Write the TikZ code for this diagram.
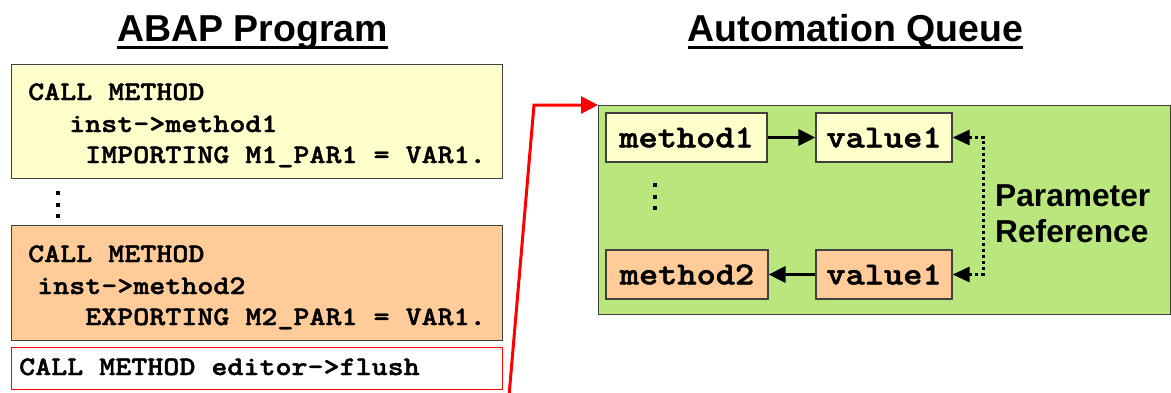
\documentclass[tikz,border=0pt]{standalone}
\usepackage{fontspec}
\setmainfont{Liberation Sans}
% heavy typewriter face widened to Courier-like advance widths
\newfontfamily\codefont{lmmonolt10-bold.otf}[FakeStretch=1.143,FakeBold=1.6]
\usetikzlibrary{arrows.meta}
\definecolor{paleyellow}{RGB}{255,255,204}
\definecolor{peach}{RGB}{255,204,153}
\definecolor{queuegreen}{RGB}{185,230,125}
\definecolor{frame}{RGB}{64,64,64}

\begin{document}
\begin{tikzpicture}[x=1pt,y=-1pt,
  codebox/.style={draw=frame, line width=1.2pt, anchor=north west, inner sep=0pt},
  codeline/.style={anchor=base west, inner sep=0pt, font=\codefont\fontsize{26.7}{32}\selectfont},
  title/.style={anchor=base, inner sep=0pt, font=\bfseries\fontsize{37.5}{40}\selectfont},
  titlerule/.style={line width=3pt},
  qitem/.style={draw=frame, line width=1.2pt, minimum height=49pt, inner sep=0pt, font=\codefont\fontsize{32}{36}\selectfont},
  flow/.style={line width=3.3pt, -{Triangle[length=17pt,width=16pt]}},
  paramref/.style={line width=3pt, dash pattern=on 3pt off 3pt,
    {Triangle[length=17pt,width=15pt]}-{Triangle[length=17pt,width=15pt]}},
  flushline/.style={red, line width=3pt, -{Triangle[length=17pt,width=17pt]}},
  dot/.style={fill=black},
]
\useasboundingbox (0,0) rectangle (1171,392);

% headings
\node[title] (abap) at (252.5,41) {ABAP Program};
\draw[titlerule] ([yshift=-6.5pt]abap.base west) -- ([yshift=-6.5pt]abap.base east);
\node[title] (aq) at (855.5,41) {Automation Queue};
\draw[titlerule] ([yshift=-6.5pt]aq.base west) -- ([yshift=-6.5pt]aq.base east);

% ABAP source: first call
\node[codebox, fill=paleyellow, minimum width=491pt, minimum height=114pt] (call1) at (11,64) {};
\node[codeline] (c1a) at (28,100) {CALL METHOD};
\node[codeline] (c1b) at (69,132) {inst->method1};
\node[codeline] (c1c) at (85,163) {IMPORTING M1\_PAR1 = VAR1.};

% vertical ellipsis between the calls
\foreach \y in {193,204.5,216} \fill[dot] (56,\y-2) rectangle (60,\y+2);

% ABAP source: second call
\node[codebox, fill=peach, minimum width=491pt, minimum height=115pt] (call2) at (11,225) {};
\node[codeline] (c2a) at (28,262) {CALL METHOD};
\node[codeline] (c2b) at (37,294) {inst->method2};
\node[codeline] (c2c) at (85,325) {EXPORTING M2\_PAR1 = VAR1.};

% flush call
\node[codebox, draw=red, line width=1pt, fill=white, minimum width=491pt, minimum height=42pt] (flush) at (11,347) {};
\node[codeline] (c3) at (19,375) {CALL METHOD editor->flush};

% automation queue
\node[codebox, fill=queuegreen, minimum width=572pt, minimum height=209pt] (queue) at (598,105) {};
\node[qitem, fill=paleyellow, minimum width=161pt] (m1) at (686.5,137.5) {method1};
\node[qitem, fill=paleyellow, minimum width=136pt] (v1) at (884,137.5) {value1};
\node[qitem, fill=peach, minimum width=162pt] (m2) at (687,274.5) {method2};
\node[qitem, fill=peach, minimum width=136pt] (v2) at (884,274.5) {value1};
\foreach \y in {185,196.5,208} \fill[dot] (653,\y-2) rectangle (657,\y+2);

\draw[flow] (m1.east) -- (v1.west);
\draw[flow] (v2.west) -- (m2.east);

\coordinate (bend) at (983,137.5);
\draw[paramref] (v1.east) -- (bend) |- (v2.east);
\node[anchor=north west, inner sep=0pt, align=left,
      font=\bfseries\fontsize{31.7}{36}\selectfont] (ref) at (995,184.3) {Parameter\\Reference};

% flush sends the queue
\coordinate (feed) at (509,396);
\coordinate (kink) at (534,105);
\draw[flushline] (feed) -- (kink) -- (queue.north west);
\end{tikzpicture}
\end{document}
